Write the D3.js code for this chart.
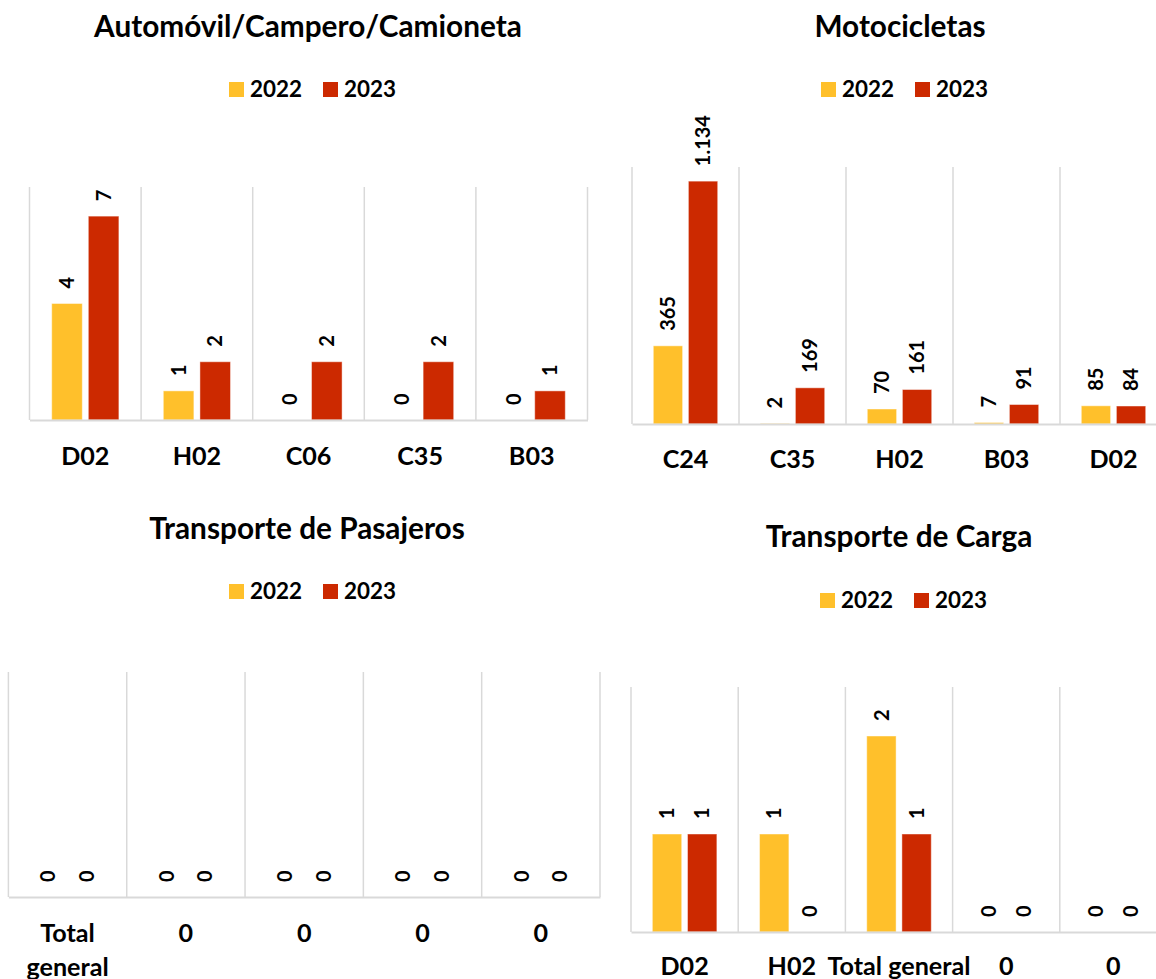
<!DOCTYPE html>
<html>
<head>
<meta charset="utf-8">
<script src="https://cdn.jsdelivr.net/npm/d3@7"></script>
<style>
  body { margin: 0; background: #fff; }
  svg { display: block; font-family: Lato, "Open Sans", sans-serif; font-weight: bold; }
</style>
</head>
<body>
<svg id="chart"></svg>
<script>
const seriesNames = ['2022', '2023'];
const seriesColors = ['#FFC02B', '#CC2900'];

const categoriesAuto = ['D02', 'H02', 'C06', 'C35', 'B03'];
const auto2022 = [4, 1, 0, 0, 0];
const auto2023 = [7, 2, 2, 2, 1];

const categoriesMoto = ['C24', 'C35', 'H02', 'B03', 'D02'];
const moto2022 = [365, 2, 70, 7, 85];
const moto2023 = [1134, 169, 161, 91, 84];

const categoriesPasajeros = ['Total general', '0', '0', '0', '0'];
const pasajeros2022 = [0, 0, 0, 0, 0];
const pasajeros2023 = [0, 0, 0, 0, 0];

const categoriesCarga = ['D02', 'H02', 'Total general', '0', '0'];
const carga2022 = [1, 1, 2, 0, 0];
const carga2023 = [1, 0, 1, 0, 0];

const width = 1156;
const height = 979;

const svg = d3.select('#chart')
  .attr('width', width)
  .attr('height', height);

// Spanish number format: 1.134
const fmt = d3.formatLocale({decimal: ',', thousands: '.', grouping: [3], currency: ['$', '']}).format(',d');

// size a font so a sample string gets the wanted width
function fitSize(text, target) {
  const t = svg.append('text').attr('font-size', 100).text(text);
  const w = t.node().getComputedTextLength();
  t.remove();
  return 100 * target / w;
}

const titleSize = fitSize('Automóvil/Campero/Camioneta', 428);
const legendSize = fitSize('2022', 52);
const axisSize = fitSize('Total general', 143);
const labelSize = fitSize('1.134', 51);

const panels = [
  {title: 'Automóvil/Campero/Camioneta', categories: categoriesAuto, values: [auto2022, auto2023], yMax: 8,
    left: 29.5, right: 587.5, top: 187, bottom: 420, titleX: 308, titleY: 37, legendX: 313, legendY: 97, pad: 27},
  {title: 'Motocicletas', categories: categoriesMoto, values: [moto2022, moto2023], yMax: 1200,
    left: 632, right: 1167, top: 167, bottom: 424, titleX: 900, titleY: 37, legendX: 905, legendY: 97, pad: 26},
  {title: 'Transporte de Pasajeros', categories: categoriesPasajeros, values: [pasajeros2022, pasajeros2023], yMax: 1,
    left: 8.4, right: 600, top: 672, bottom: 897, titleX: 307, titleY: 539, legendX: 313, legendY: 599, pad: 27, wrap: true},
  {title: 'Transporte de Carga', categories: categoriesCarga, values: [carga2022, carga2023], yMax: 2.5,
    left: 631, right: 1167, top: 687, bottom: 932, titleX: 899, titleY: 547, legendX: 904, legendY: 608, pad: 25}
];

panels.forEach((p) => {
  const g = svg.append('g');
  const idx = p.categories.map((d, i) => i);

  const x = d3.scaleBand()
    .domain(idx)
    .range([p.left, p.right]);

  const bw = x.bandwidth();
  const xInner = d3.scaleBand()
    .domain(d3.range(seriesNames.length))
    .range([bw * 0.199, bw * 0.801])
    .paddingInner(0.165);

  const y = d3.scaleLinear()
    .domain([0, p.yMax])
    .range([p.bottom, p.top]);

  // title
  g.append('text')
    .attr('x', p.titleX)
    .attr('y', p.titleY)
    .attr('text-anchor', 'middle')
    .attr('font-size', titleSize)
    .attr('fill', '#000')
    .text(p.title);

  // legend
  const legend = g.append('g')
    .attr('transform', `translate(${p.legendX - 84}, ${p.legendY})`);
  seriesNames.forEach((name, i) => {
    legend.append('rect')
      .attr('x', i * 94)
      .attr('y', -15)
      .attr('width', 15)
      .attr('height', 15)
      .attr('fill', seriesColors[i]);
    legend.append('text')
      .attr('x', i * 94 + 21)
      .attr('y', 0)
      .attr('font-size', legendSize)
      .text(name);
  });

  // vertical gridlines between categories
  const edges = idx.map((i) => x(i)).concat([p.right]);
  g.append('g')
    .selectAll('line')
    .data(edges)
    .enter()
    .append('line')
    .attr('x1', (d) => d)
    .attr('x2', (d) => d)
    .attr('y1', p.top)
    .attr('y2', p.bottom)
    .attr('stroke', '#d9d9d9')
    .attr('stroke-width', 1.5);

  // bars
  const flat = [];
  p.values.forEach((vals, s) => vals.forEach((v, i) => flat.push({s, i, v})));

  g.append('g')
    .selectAll('rect')
    .data(flat.filter((d) => d.v > 0))
    .enter()
    .append('rect')
    .attr('x', (d) => x(d.i) + xInner(d.s))
    .attr('y', (d) => y(d.v))
    .attr('width', xInner.bandwidth())
    .attr('height', (d) => p.bottom - y(d.v))
    .attr('fill', (d) => seriesColors[d.s])
    .attr('stroke', 'rgba(255,255,255,0.45)')
    .attr('stroke-width', 1);

  // value labels, rotated
  g.append('g')
    .selectAll('text')
    .data(flat)
    .enter()
    .append('text')
    .attr('transform', (d) => `translate(${x(d.i) + xInner(d.s) + xInner.bandwidth() / 2}, ${y(d.v) - 15}) rotate(-90)`)
    .attr('dy', '0.36em')
    .attr('font-size', labelSize)
    .text((d) => fmt(d.v));

  // category axis
  const axis = g.append('g')
    .attr('transform', `translate(0, ${p.bottom})`)
    .call(d3.axisBottom(x)
      .tickSize(0)
      .tickSizeOuter(0)
      .tickPadding(p.pad)
      .tickFormat((i) => p.categories[i]));

  axis.attr('font-family', null).attr('font-size', null);

  axis.select('.domain')
    .attr('stroke', '#d9d9d9')
    .attr('stroke-width', 2);

  axis.selectAll('text')
    .attr('font-size', axisSize)
    .attr('font-weight', 'bold')
    .attr('fill', '#000');

  if (p.wrap) {
    axis.selectAll('text').each(function () {
      const t = d3.select(this);
      const words = t.text().split(' ');
      if (words.length < 2) return;
      t.text(null);
      words.forEach((w, k) => {
        t.append('tspan')
          .attr('x', 0)
          .attr('dy', k === 0 ? '0.71em' : '1.35em')
          .text(w);
      });
    });
  }
});
</script>
</body>
</html>
